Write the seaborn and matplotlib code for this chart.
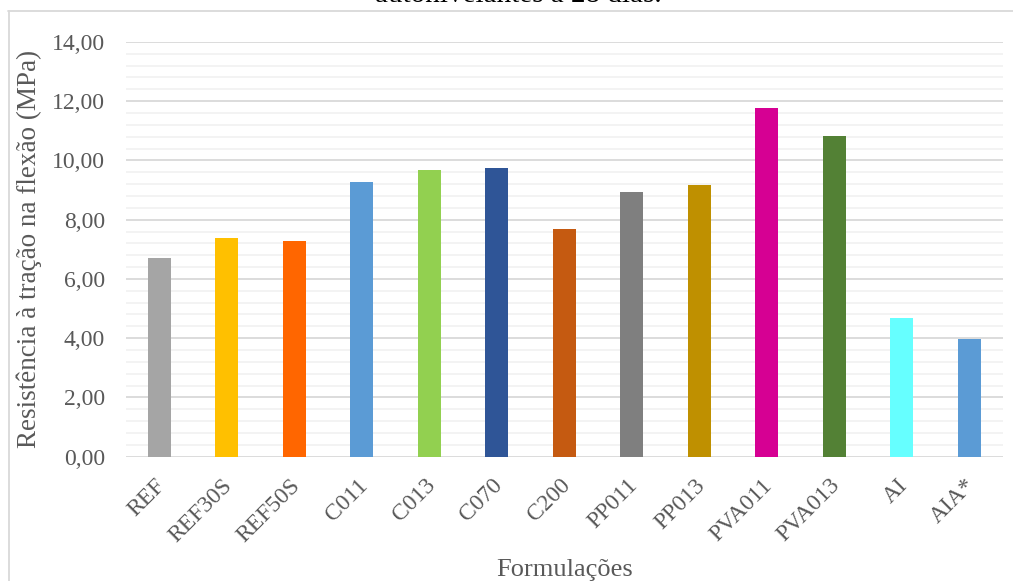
import matplotlib
matplotlib.use("Agg")
import matplotlib.pyplot as plt
from matplotlib.ticker import MultipleLocator, FuncFormatter
from matplotlib.lines import Line2D
from matplotlib.transforms import ScaledTranslation
import seaborn as sns
import pandas as pd

# Flexural tensile strength at 28 days per mix
formulacoes = ["REF", "REF30S", "REF50S", "C011", "C013", "C070", "C200",
               "PP011", "PP013", "PVA011", "PVA013", "AI", "AIA*"]
resistencia = [6.71, 7.39, 7.28, 9.26, 9.67, 9.75, 7.69,
               8.93, 9.17, 11.76, 10.82, 4.69, 3.97]
cores = ["#A5A5A5", "#FFC000", "#FF6600", "#5B9BD5", "#92D050", "#2F5597",
         "#C55A11", "#7F7F7F", "#BF9000", "#D60093", "#538135", "#66FFFF",
         "#5B9BD5"]

titulo = "autonivelantes a 28 dias."
rotulo_y = "Resistência à tração na flexão (MPa)"
rotulo_x = "Formulações"

sns.set_theme(style="white")
plt.rcParams["font.family"] = ["Liberation Serif", "DejaVu Serif"]

df = pd.DataFrame({"form": formulacoes, "val": resistencia})

fig = plt.figure(figsize=(10.13, 5.81), dpi=100)
ax = fig.add_axes([0.1241, 0.2139, 0.8662, 0.714])

sns.barplot(data=df, x="form", y="val", hue="form", palette=cores,
            order=formulacoes, hue_order=formulacoes, width=0.34,
            legend=False, ax=ax, saturation=1, linewidth=0)

ax.set_ylim(0, 14)
ax.set_xlim(-0.5, len(formulacoes) - 0.5)
ax.yaxis.set_major_locator(MultipleLocator(2))
ax.yaxis.set_minor_locator(MultipleLocator(0.4))
ax.yaxis.set_major_formatter(FuncFormatter(lambda v, p: f"{v:.2f}".replace(".", ",")))
ax.grid(axis="y", which="major", color="#D9D9D9", linewidth=1.3)
ax.grid(axis="y", which="minor", color="#F2F2F2", linewidth=1.3)
ax.grid(axis="x", visible=False)
ax.set_axisbelow(True)
for s in ax.spines.values():
    s.set_visible(False)
ax.tick_params(axis="both", which="both", length=0, colors="#595959",
               labelsize=17)
ax.tick_params(axis="y", pad=15)
ax.tick_params(axis="x", pad=13)
shift = ScaledTranslation(-5 / 100, 0, fig.dpi_scale_trans)
for lbl in ax.get_xticklabels():
    lbl.set_rotation(45)
    lbl.set_ha("right")
    lbl.set_rotation_mode("anchor")
    lbl.set_transform(lbl.get_transform() + shift)

ax.set_ylabel(rotulo_y, fontsize=19.5, color="#595959")
ax.set_xlabel(rotulo_x, fontsize=19, color="#595959")
ax.xaxis.set_label_coords(0.5, -0.2466)
ax.yaxis.set_label_coords(-0.0954, 0.5)

# chart frame (top and left edges)
fig.add_artist(Line2D([8 / 1013, 1.0], [1 - 10.5 / 581, 1 - 10.5 / 581],
                      transform=fig.transFigure, color="#D9D9D9", lw=1.3))
fig.add_artist(Line2D([8.5 / 1013, 8.5 / 1013], [0, 1 - 10.5 / 581],
                      transform=fig.transFigure, color="#D9D9D9", lw=1.3))

fig.text(518 / 1013, 1 - 2.5 / 581, titulo, ha="center", va="baseline",
         fontsize=21, color="black")

fig.savefig("out.png", dpi=100, facecolor="white")
